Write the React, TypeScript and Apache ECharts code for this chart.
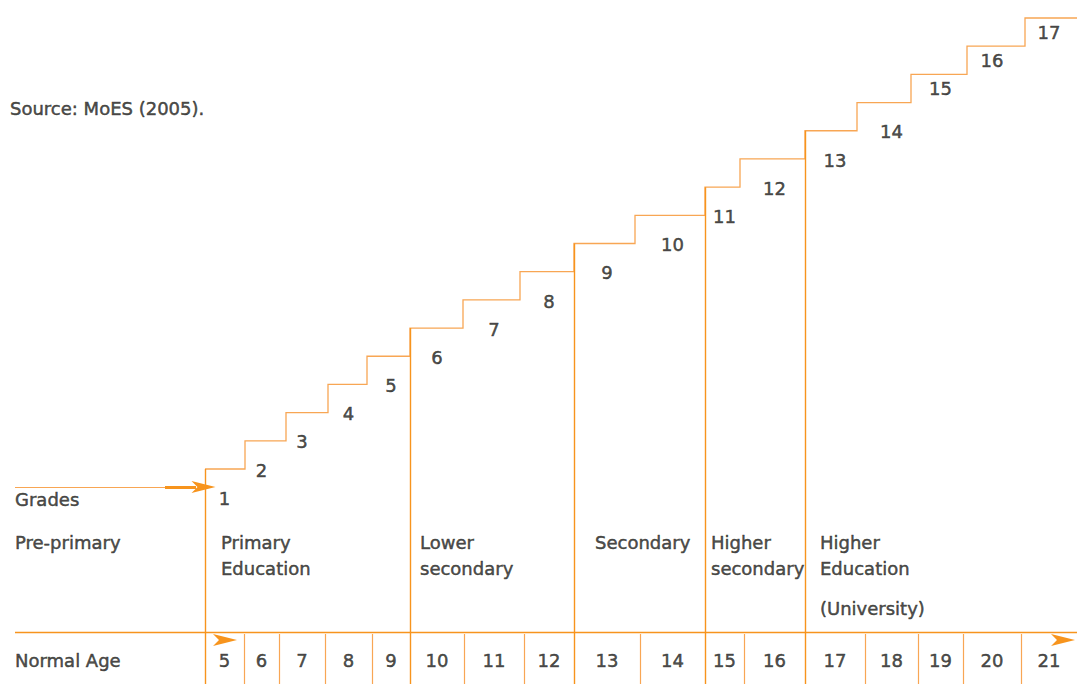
import React, { useEffect, useRef } from "react";
import * as echarts from "echarts";

// ---- data ----
const grades = ["1","2","3","4","5","6","7","8","9","10","11","12","13","14","15","16","17"];
const ages = ["5","6","7","8","9","10","11","12","13","14","15","16","17","18","19","20","21"];
// schematic geometry (x-axis units): riser position of each grade, last = right end
const stepEdges = [205,245,286,328,367,410,463,520,574,635,705,740,805,857,911,967,1025,1077];
// left boundary of each age column, last = right end
const ageEdges = [205,244,279,325,372,410,464,524,574,640,705,744,805,865,918,963,1021,1077];
const sectionStartGrade = [1, 6, 9, 11, 13];
const sectionLines = [
  ["Primary", "Education"],
  ["Lower", "secondary"],
  ["Secondary"],
  ["Higher", "secondary"],
  ["Higher", "Education", "(University)"],
];
const sectionPad = [16, 10, 21, 6, 15];
const sideLabels = ["Grades", "Pre-primary", "Normal Age"];
const sourceText = "Source: MoES (2005).";

// ---- layout (levels in grade units) ----
const PX = 28.1875; // px per grade level
const lv = (px: number) => 1 + (469 - px) / PX;
const Y_MAX = lv(0);
const Y_MIN = lv(684);
const BASE = lv(632);
const SEP_TOP = lv(634);
const AGE_ROW = lv(660);
const DART_ROW = lv(640);
const GRADE_ARROW = lv(487);
const SECTION_ROWS = [lv(542), lv(568), lv(608)];
const SECTION_ROWS_2 = [lv(542), lv(568)];
const SIDE_ROWS = [lv(499), lv(542), lv(660)];
const SOURCE_ROW = lv(108);

const FONT = "DejaVu Sans";
const TEXT = "#231f20";
const ORANGE = "#f7941d";
const LIGHT = "#f8a654";
const DART = "path://M0 0L24 6L0 12L6 6Z";

function textSeries(points: { x: number; y: number; t: string }[], align: string, size = 18) {
  return {
    type: "scatter",
    silent: true,
    symbolSize: 0,
    z: 10,
    data: points.map((p) => ({ value: [p.x, p.y], t: p.t })),
    label: {
      show: true,
      position: [0, 0],
      align,
      verticalAlign: "middle",
      formatter: (d: any) => d.data.t,
      fontFamily: FONT,
      fontSize: size,
      color: TEXT,
      textBorderColor: TEXT,
      textBorderWidth: 0.5,
    },
  };
}

export default function App() {
  const ref = useRef<HTMLDivElement>(null);
  useEffect(() => {
    if (!ref.current) return;
    const chart = echarts.init(ref.current, undefined, { renderer: "svg" });

    // staircase
    const stair: number[][] = [[stepEdges[0], 1]];
    for (let i = 0; i < grades.length; i++) {
      if (i > 0) stair.push([stepEdges[i], i + 1]);
      stair.push([stepEdges[i + 1], i + 1]);
    }
    const dividerX = sectionStartGrade.map((g) => stepEdges[g - 1]);
    const dividers = sectionStartGrade.map((g, i) => ({
      coords: [[dividerX[i], g], [dividerX[i], Y_MIN]],
    }));
    const seps = ageEdges
      .slice(0, ages.length)
      .filter((x) => !dividerX.includes(x))
      .map((x) => ({ coords: [[x, SEP_TOP], [x, Y_MIN]] }));

    const ageCenters = ages.map((_, i) => (ageEdges[i] + ageEdges[i + 1]) / 2);
    const gradeDrop = (g: number) => (g >= 15 ? 0.5 : 1.04);

    const sectionTexts: { x: number; y: number; t: string }[] = [];
    sectionLines.forEach((lines, i) => {
      const rows = lines.length === 3 ? SECTION_ROWS : SECTION_ROWS_2;
      lines.forEach((t, j) => sectionTexts.push({ x: dividerX[i] + sectionPad[i], y: rows[j], t }));
    });

    chart.setOption({
      animation: false,
      grid: { left: 0, right: 0, top: 0, bottom: 0 },
      xAxis: { type: "value", min: 0, max: 1077, show: false },
      yAxis: { type: "value", min: Y_MIN, max: Y_MAX, show: false },
      series: [
        {
          type: "lines",
          coordinateSystem: "cartesian2d",
          polyline: true,
          silent: true,
          lineStyle: { color: LIGHT, width: 1.3, opacity: 1 },
          data: [{ coords: stair }],
        },
        {
          type: "lines",
          coordinateSystem: "cartesian2d",
          silent: true,
          lineStyle: { color: ORANGE, width: 1.4, opacity: 1 },
          data: [...dividers, { coords: [[15, BASE], [1077, BASE]] }],
        },
        {
          type: "lines",
          coordinateSystem: "cartesian2d",
          silent: true,
          lineStyle: { color: LIGHT, width: 1.2, opacity: 1 },
          data: seps,
        },
        {
          type: "lines",
          coordinateSystem: "cartesian2d",
          silent: true,
          lineStyle: { color: LIGHT, width: 1, opacity: 1 },
          data: [{ coords: [[15, GRADE_ARROW], [166, GRADE_ARROW]] }],
        },
        {
          type: "lines",
          coordinateSystem: "cartesian2d",
          silent: true,
          lineStyle: { color: ORANGE, width: 3, opacity: 1 },
          data: [{ coords: [[165, GRADE_ARROW], [196, GRADE_ARROW]] }],
        },
        {
          type: "scatter",
          silent: true,
          symbol: DART,
          symbolSize: [24, 12],
          itemStyle: { color: ORANGE, opacity: 1 },
          z: 5,
          data: [
            [203.5, GRADE_ARROW],
            [225, DART_ROW],
            [1063, DART_ROW],
          ],
        },
        textSeries(
          grades.map((g, i) => ({ x: ageCenters[i], y: i + 1 - gradeDrop(i + 1), t: g })),
          "center"
        ),
        textSeries(
          ages.map((a, i) => ({ x: ageCenters[i], y: AGE_ROW, t: a })),
          "center"
        ),
        textSeries(sectionTexts, "left"),
        textSeries(
          sideLabels.map((t, i) => ({ x: 15, y: SIDE_ROWS[i], t })),
          "left"
        ),
        textSeries([{ x: 10, y: SOURCE_ROW, t: sourceText }], "left"),
      ],
    });
    return () => chart.dispose();
  }, []);
  return (
    <div
      ref={ref}
      style={{ position: "fixed", left: 0, top: 0, width: 1077, height: 684, background: "#fff" }}
    />
  );
}
